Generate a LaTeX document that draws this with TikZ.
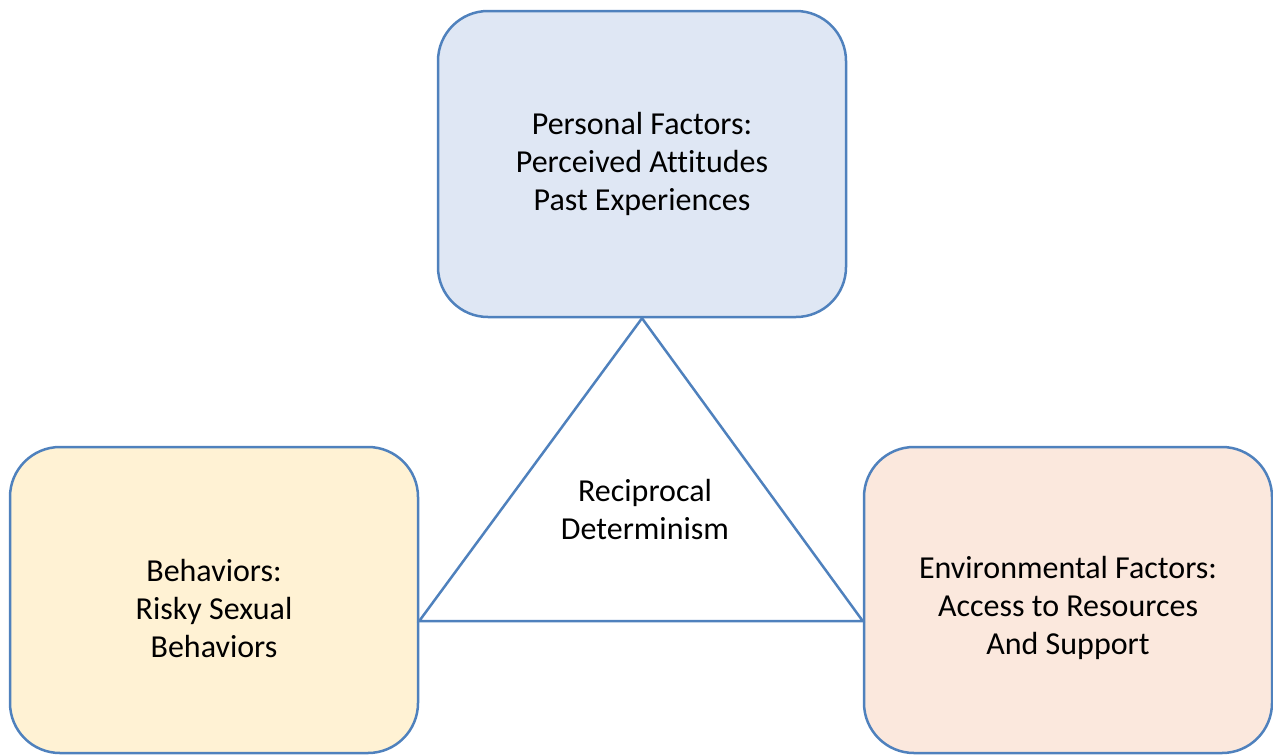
\documentclass[tikz,border=0pt]{standalone}
\usepackage{fontspec}
\setmainfont[Ligatures=NoCommon]{Carlito}
\usepackage{xcolor}
\definecolor{edgeblue}{HTML}{4F81BD}
\definecolor{persfill}{HTML}{DFE7F4}
\definecolor{behavfill}{HTML}{FFF2D4}
\definecolor{envfill}{HTML}{FBE8DD}
\tikzset{factor/.style={draw=edgeblue,line width=1.25pt,rounded corners=25pt,
    minimum width=204pt,minimum height=153pt,align=center,
    font=\fontsize{16pt}{19pt}\selectfont}}

\begin{document}
\begin{tikzpicture}[x=0.5pt,y=-0.5pt]
\useasboundingbox (0,0) rectangle (1273,755);
\path
    (642,164) node [factor,fill=persfill] (pers)
        {Personal Factors:\\Perceived Attitudes\\Past Experiences}
    (214,600) node [factor,fill=behavfill] (behav)
        {\\[0.5pt]Behaviors:\\Risky Sexual\\Behaviors}
    (1068,600) node [factor,fill=envfill] (env)
        {\\[0.5pt]Environmental Factors:\\Access to Resources\\And Support};
\coordinate (tleft) at (behav.east |- 0,621);
\coordinate (tright) at (env.west |- 0,621);
\draw [edgeblue,line width=1.25pt] (pers.south) -- (tleft) -- (tright) -- cycle;
\node [align=center,font=\fontsize{16pt}{19pt}\selectfont] (recip) at (645,509)
    {Reciprocal\\Determinism};
\end{tikzpicture}
\end{document}
